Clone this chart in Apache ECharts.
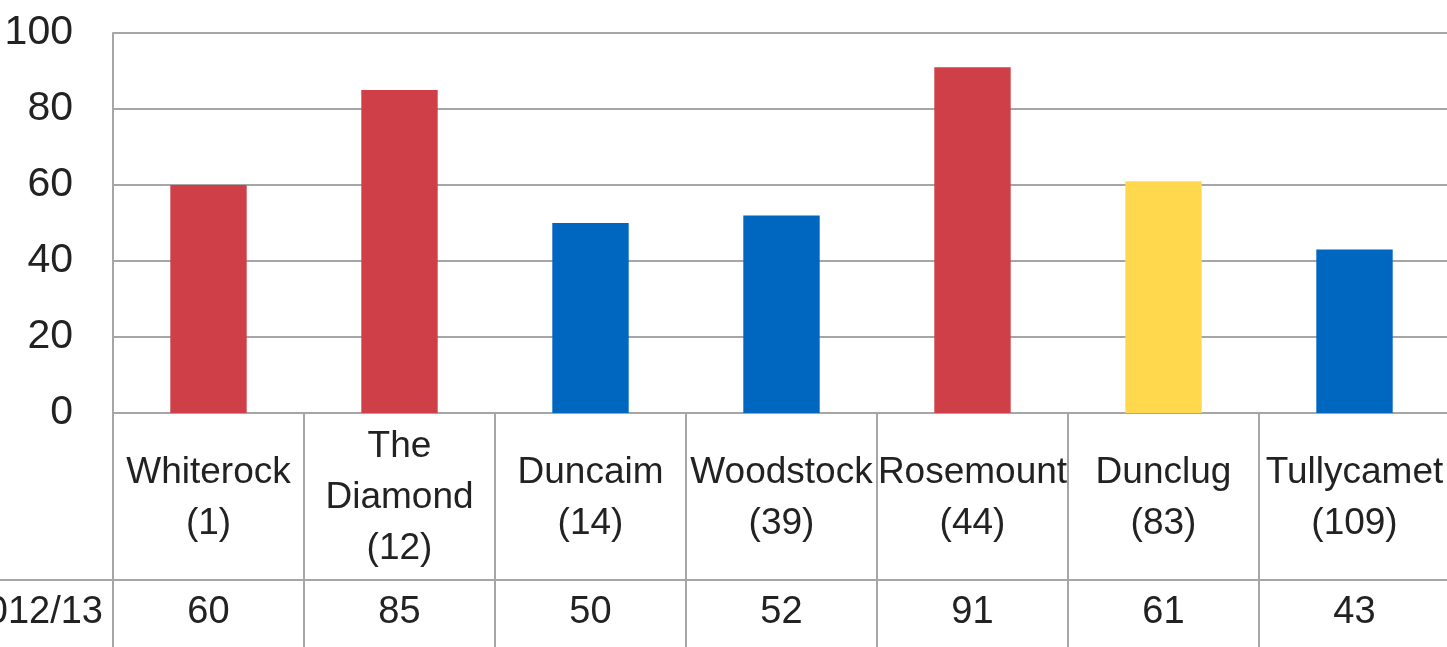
<!DOCTYPE html>
<html>
<head>
<meta charset="utf-8">
<script src="https://cdn.jsdelivr.net/npm/echarts@6/dist/echarts.min.js"></script>
<style>
  html, body { margin: 0; padding: 0; background: #fff; }
  #chart { width: 1447px; height: 647px; }
</style>
</head>
<body>
<div id="chart"></div>
<script>
// data
var schools = ['Whiterock', 'The\nDiamond', 'Duncaim', 'Woodstock', 'Rosemount', 'Dunclug', 'Tullycamet'];
var ranks = [1, 12, 14, 39, 44, 83, 109];
var scores = [60, 85, 50, 52, 91, 61, 43];
var yearLabel = '2012/13';
var yTicks = [0, 20, 40, 60, 80, 100];

// colour for each bar
var barColors = ['#CF3F48', '#CF3F48', '#0067C0', '#0067C0', '#CF3F48', '#FFD84D', '#0067C0'];

var font = "'Liberation Sans Narrow', 'Arial Narrow', 'Liberation Sans', Arial, sans-serif";
var lineCol = '#A6A6A6';
var textCol = '#222222';

var cats = [];
for (var i = 0; i < schools.length; i++) {
    cats.push(schools[i] + '\n(' + ranks[i] + ')');
}

var barData = [];
for (var i = 0; i < scores.length; i++) {
    barData.push({value: scores[i], itemStyle: {color: barColors[i]}});
}

var myChart = echarts.init(document.getElementById('chart'), null, {renderer: 'canvas'});

var gridBottom = 234;   // space below the zero line for the table
var rowOffset = 167;    // first table row height

var option = {
    backgroundColor: '#fff',
    animation: false,
    grid: {
        left: 113, right: -3, top: 33, bottom: gridBottom,
        containLabel: false,
        outerBoundsMode: 'none'
    },
    xAxis: [{
        type: 'category',
        data: cats,
        position: 'bottom',
        axisLine: {show: true, lineStyle: {color: lineCol, width: 2}},
        axisTick: {show: true, length: 240, lineStyle: {color: lineCol, width: 2}},
        axisLabel: {
            interval: 0,
            margin: 85,
            verticalAlign: 'middle',
            fontFamily: font,
            fontSize: 37,
            lineHeight: 51,
            color: textCol
        }
    }, {
        type: 'category',
        data: scores.map(String),
        position: 'bottom',
        offset: rowOffset,
        axisLine: {show: true, lineStyle: {color: lineCol, width: 2}},
        axisTick: {show: false},
        axisLabel: {
            interval: 0,
            margin: 33,
            verticalAlign: 'middle',
            fontFamily: font,
            fontSize: 38,
            color: textCol
        },
        name: yearLabel,
        nameLocation: 'start',
        nameGap: 10,
        nameTextStyle: {
            fontFamily: font,
            fontSize: 38,
            color: textCol,
            align: 'right',
            verticalAlign: 'top',
            padding: [14, 0, 0, 0]
        }
    }],
    yAxis: {
        type: 'value',
        min: 0,
        max: 100,
        interval: 20,
        axisLine: {show: true, lineStyle: {color: lineCol, width: 2}},
        axisTick: {show: false},
        splitLine: {show: true, lineStyle: {color: lineCol, width: 2}},
        axisLabel: {
            margin: 40,
            fontFamily: font,
            fontSize: 41,
            color: textCol,
            formatter: function (v) {
                return yTicks.indexOf(v) >= 0 ? String(v) : '';
            }
        }
    },
    series: [{
        type: 'bar',
        xAxisIndex: 0,
        barWidth: '40%',
        data: barData
    }]
};

myChart.setOption(option);

// table rule under the label row, running out to the left edge
var yRule = myChart.getHeight() - gridBottom + rowOffset;
myChart.setOption({
    graphic: [{
        type: 'line',
        shape: {x1: 0, y1: yRule, x2: 113, y2: yRule},
        style: {stroke: lineCol, lineWidth: 2}
    }]
});
</script>
</body>
</html>
